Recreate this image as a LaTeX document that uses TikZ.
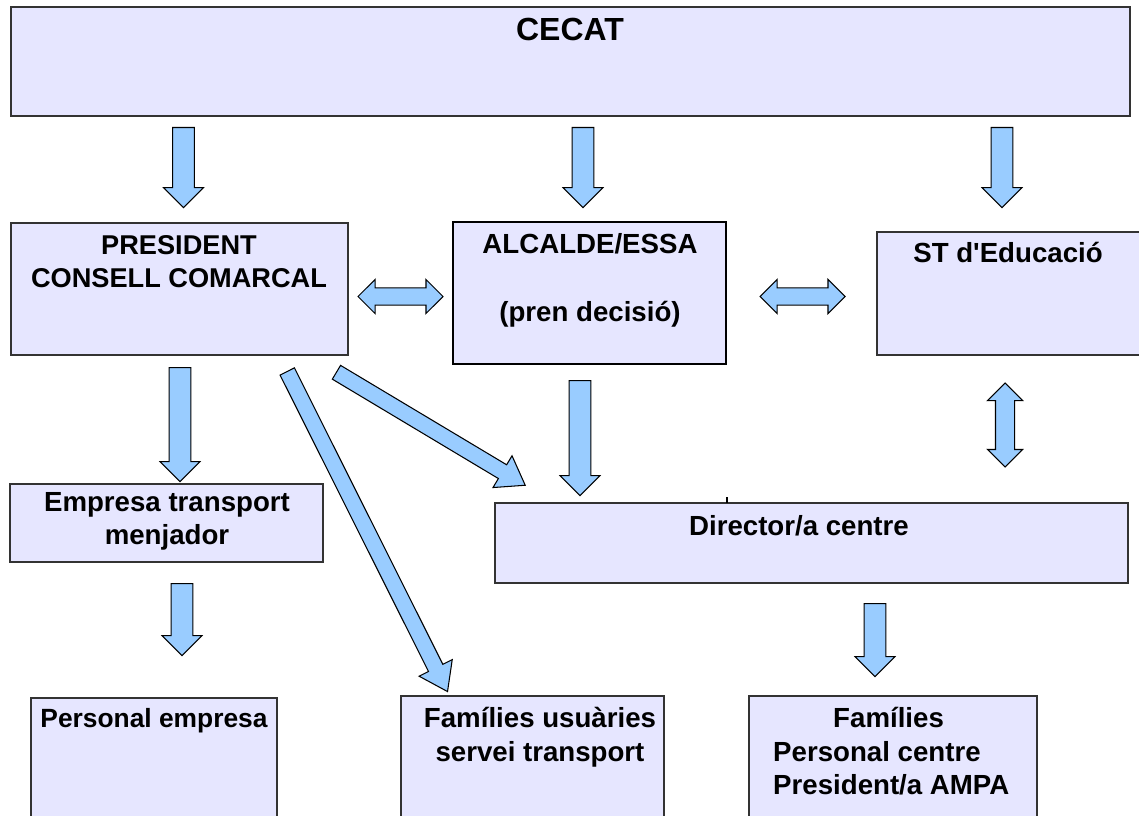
\documentclass[tikz,border=0pt]{standalone}
\usepackage{fontspec}
\setmainfont{Liberation Sans}
\usetikzlibrary{shapes.arrows,fit}

\definecolor{boxfill}{HTML}{E6E6FF}
\definecolor{arrowfill}{HTML}{99CCFF}
\def\pix{0.03cm}

\tikzset{
  box/.style={draw=black!80, line width=1.1pt, fill=boxfill, inner sep=0pt},
  txt/.style={anchor=north, inner sep=0pt, align=center, font=\fontsize{23.6}{28.6}\selectfont\bfseries},
  fat/.style={single arrow, draw=black, fill=arrowfill, line width=0.9pt, inner xsep=0pt,
    inner ysep=0.31cm, single arrow head extend=0.27cm, single arrow head indent=0pt, anchor=tail},
  slim/.style={single arrow, draw=black, fill=arrowfill, line width=0.9pt, inner xsep=0pt,
    inner ysep=0.225cm, single arrow head extend=0.315cm, single arrow head indent=0pt,
    single arrow tip angle=70, anchor=tail},
  both/.style={double arrow, draw=black, fill=arrowfill, line width=0.9pt, inner xsep=0pt,
    inner ysep=0.24cm, double arrow head extend=0.255cm, double arrow head indent=0pt}
}

\begin{document}
\begin{tikzpicture}[x=0.03cm, y=-0.03cm]
\useasboundingbox (0,0) rectangle (1139,816);

% boxes
\node[box, fit={(11,7) (1130,116)}] (cecat) {};
\node[box, fit={(11,223) (348,355)}] (pres) {};
\node[box, draw=black, line width=1.6pt, fit={(453,222) (726,364)}] (alc) {};
\node[box, fit={(877,232) (1150,355)}] (st) {};
\node[box, fit={(10,484) (323,562)}] (emp) {};
\node[box, fit={(495,503) (1128,583)}] (dir) {};
\node[box, fit={(31,698) (277,830)}] (pemp) {};
\node[box, fit={(401,696) (664,830)}] (fusu) {};
\node[box, fit={(749,696) (1037,830)}] (fcen) {};

% texts
\node[txt, font=\fontsize{27.3}{30}\selectfont\bfseries] (cecat-t) at (570,18) {CECAT};
\node[txt, font=\fontsize{23.2}{28.6}\selectfont\bfseries] (pres-t) at (179,235) {PRESIDENT\\CONSELL COMARCAL};
\node[txt] (alc-t) at (590,233) {ALCALDE/ESSA\\[30pt](pren decisió)};
\node[txt] (st-t) at (1008,242) {ST d\textquotesingle Educació};
\node[txt] (emp-t) at (167,492) {Empresa transport\\menjador};
\node[txt] (dir-t) at (799,515) {Director/a centre};
\node[txt, font=\fontsize{22.5}{28.6}\selectfont\bfseries] (pemp-t) at (154,708) {Personal empresa};
\node[txt] (fusu-t) at (540,707) {Famílies usuàries\\servei transport};
\node[txt, anchor=north west, align=left] (fcen-t) at (773,707) {\hspace*{1.8cm}Famílies\\Personal centre\\President/a AMPA};

% small mark on the director box
\draw[line width=1pt] (727,497) -- (727,503);

% arrows
\node[fat, minimum height=80*\pix, rotate=-90] (a1) at (183.5,127) {};
\node[fat, minimum height=80*\pix, rotate=-90] (a2) at (583,127) {};
\node[fat, minimum height=80*\pix, rotate=-90] (a3) at (1002,127) {};
\node[both, minimum height=85*\pix] (d1) at (400.5,296.5) {};
\node[both, minimum height=85*\pix] (d2) at (802.5,296.5) {};
\node[fat, minimum height=114*\pix, rotate=-90] (a4) at (180,367) {};
\node[slim, minimum height=358*\pix, rotate=-63.4] (g1) at (287,371) {};
\node[slim, minimum height=220*\pix, rotate=-30.9] (g2) at (336,372) {};
\node[fat, minimum height=115*\pix, rotate=-90] (a5) at (580,380) {};
\node[both, inner ysep=0.27cm, double arrow head extend=0.24cm, minimum height=84*\pix, rotate=90] (d3) at (1005,425) {};
\node[fat, minimum height=72*\pix, rotate=-90] (a6) at (182,583) {};
\node[fat, minimum height=73*\pix, rotate=-90] (a7) at (875,603) {};
\end{tikzpicture}
\end{document}
